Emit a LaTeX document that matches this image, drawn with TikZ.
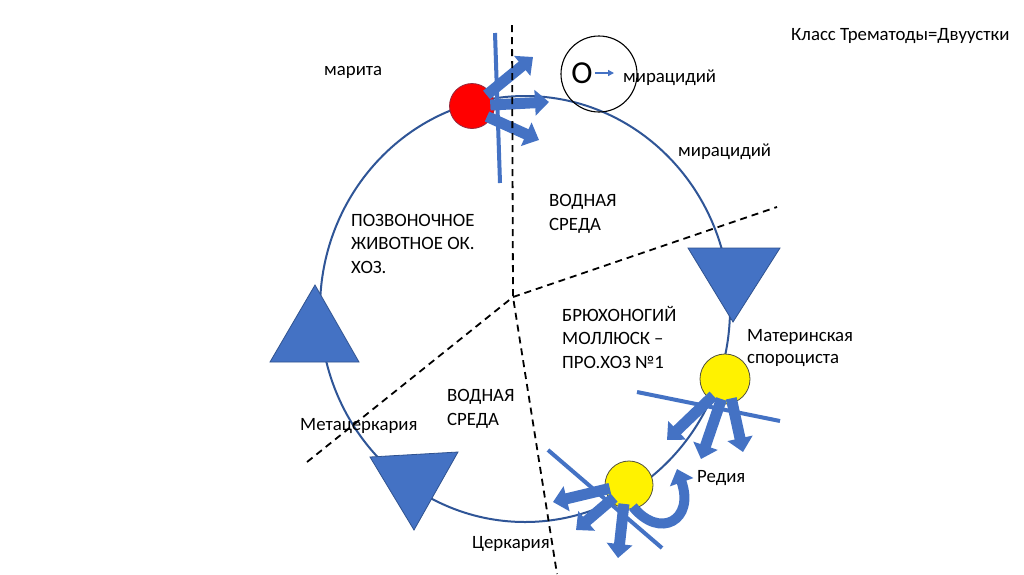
\documentclass[tikz,border=0pt]{standalone}
\usepackage{fontspec}
\setmainfont{Carlito}
\usetikzlibrary{arrows.meta,calc}
\definecolor{obl}{RGB}{68,114,196}
\definecolor{dbl}{RGB}{47,85,151}
\definecolor{tbord}{RGB}{47,82,143}
\definecolor{rbord}{RGB}{150,40,60}
\definecolor{ybord}{RGB}{80,80,60}
\begin{document}
\begin{tikzpicture}[x=1pt,y=-1pt,
  lbl/.style={font=\fontsize{18.8}{23.5}\selectfont, inner sep=0pt, anchor=base west, align=left},
  blk/.style={obl, line width=11pt, -{Triangle[width=25pt,length=14pt]}},
  cutline/.style={obl, line width=4pt},
  tri/.style={fill=obl, draw=tbord, line width=0.8pt},
  dashln/.style={black, line width=1.8pt, dash pattern=on 7pt off 5pt},
  dot/.style={circle, inner sep=0pt, line width=0.8pt}]
\useasboundingbox (0,0) rectangle (1024,574);
\fill[white] (0,0) rectangle (1024,574);

% life cycle loop
\draw[dbl, line width=2pt] (525,309) ellipse [x radius=205, y radius=213];

% egg circle
\node[circle, draw=black, line width=1.1pt, minimum size=76pt, inner sep=0pt] (egg) at (599,74) {};
\node[font=\fontsize{32}{32}\selectfont, inner sep=0pt] (ozero) at (582,73) {О};
\coordinate (eggarr) at (614,73);
\draw[obl, line width=1.4pt, -{Triangle[width=6pt,length=6pt]}] (ozero.east) ++(2,0) coordinate (eggst) -- (eggarr);

% cut lines
\draw[cutline] (495,33) coordinate (c1a) -- (500,183) coordinate (c1b);
\draw[cutline] (637,392) coordinate (c2a) -- (780,421) coordinate (c2b);
\draw[cutline] (548,450) coordinate (c3a) -- (662,548) coordinate (c3b);

% circles
\node[dot, fill=red, draw=rbord, minimum size=45pt] (marita) at (472,106) {};
\node[dot, fill=yellow, draw=ybord, minimum size=50pt] (sporo) at (725,379) {};
\node[dot, fill=yellow, draw=ybord, minimum size=48pt] (redc) at (629,485) {};

% arrows from marita
\coordinate (m1) at (533,57);
\coordinate (m2) at (549,102);
\coordinate (m3) at (539,140);
\draw[blk] ($(marita.center)!0.8!(marita.37)$) -- (m1);
\draw[blk] ($(marita.center)!0.8!(marita.3)$) -- (m2);
\draw[blk] ($(marita.center)!0.8!(marita.-35)$) -- (m3);

% arrows from sporocyst
\coordinate (s1) at (667,440);
\coordinate (s2) at (701,459);
\coordinate (s3) at (743,452);
\draw[blk] ($(sporo.center)!0.8!(sporo.-125)$) -- (s1);
\draw[blk] ($(sporo.center)!0.8!(sporo.-100)$) -- (s2);
\draw[blk] ($(sporo.center)!0.8!(sporo.-72)$) -- (s3);

% arrows from redia
\coordinate (r1) at (553,502);
\coordinate (r2) at (576,530);
\coordinate (r3) at (618,558);
\draw[blk] ($(redc.center)!0.8!(redc.190)$) -- (r1);
\draw[blk] ($(redc.center)!0.8!(redc.220)$) -- (r2);
\draw[blk] ($(redc.center)!0.8!(redc.255)$) -- (r3);
\coordinate (r4) at (677,469);
\draw[obl, line width=10pt, -{Triangle[width=24pt,length=14pt]}] ($(redc.center)!0.9!(redc.-80)$) .. controls (660,540) and (695,520) .. (r4);

% triangles
\draw[tri] (688,248) -- (780,248) -- (733,322) -- cycle;
\draw[tri] (370,457) -- (458,452) -- (414,530) -- cycle;
\draw[tri] (315,285) -- (270,362) -- (359,362) -- cycle;

% dashed separators
\coordinate (J) at (513,297);
\coordinate (dtop) at (512,25);
\coordinate (dbot) at (557,574);
\coordinate (dright) at (777,207);
\coordinate (dleft) at (307,462);
\draw[dashln] (dtop) -- (J) -- (dbot);
\draw[dashln] (dleft) -- (J) -- (dright);

% labels (base = baseline of last line)
\node[lbl] (title) at (791,40) {Класс Трематоды=Двуустки};
\node[lbl] (lmarita) at (324,75) {марита};
\node[lbl] (lmir1) at (623,82) {мирацидий};
\node[lbl] (lmir2) at (678,156) {мирацидий};
\node[lbl] (lwater1) at (549,230) {ВОДНАЯ\\СРЕДА};
\node[lbl] (lvert) at (351,273) {ПОЗВОНОЧНОЕ\\ЖИВОТНОЕ ОК.\\ХОЗ.};
\node[lbl] (lmoll) at (562,368) {БРЮХОНОГИЙ\\МОЛЛЮСК –\\ПРО.ХОЗ №1};
\node[lbl, font=\fontsize{18.8}{21.5}\selectfont] (lsporo) at (747,363) {Материнская\\спороциста};
\node[lbl] (lmeta) at (300,430) {Метацеркария};
\node[lbl] (lwater2) at (447,425) {ВОДНАЯ\\СРЕДА};
\node[lbl] (lredia) at (697,482) {Редия};
\node[lbl] (lcerc) at (472,548) {Церкария};
\end{tikzpicture}
\end{document}
